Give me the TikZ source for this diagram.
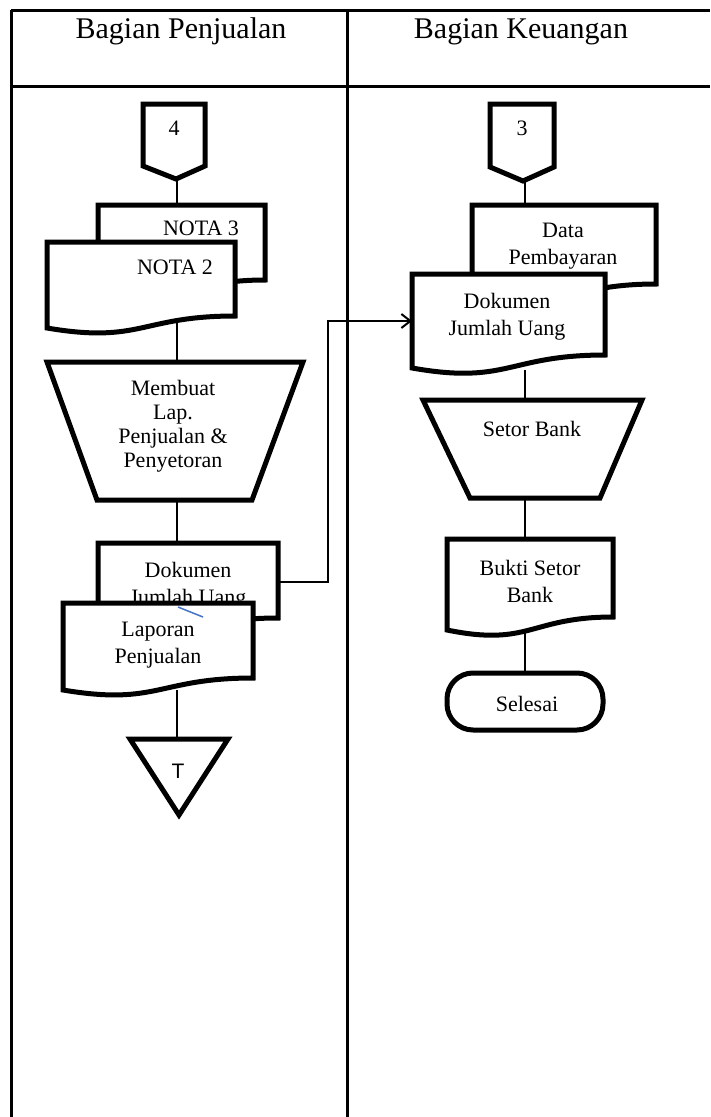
\documentclass[tikz,border=0pt]{standalone}
\usepackage{xcolor}
\usepackage{fontspec}
\setmainfont{Liberation Serif}
\newfontfamily\arialfont{Liberation Sans}
\usepackage{tikz}
\usetikzlibrary{arrows.meta}
\definecolor{garisbiru}{RGB}{68,114,196}

\begin{document}
\begin{tikzpicture}[x=1pt,y=1pt,yscale=-1,
  tbl/.style={line width=3},
  shp/.style={line width=5,line join=miter,fill=white},
  flow/.style={line width=2},
  lbl/.style={inner sep=0.75pt,align=center,font=\fontsize{22}{27}\selectfont},
  hdr/.style={inner sep=0.75pt,font=\fontsize{30}{36}\selectfont}]
\useasboundingbox (0,0) rectangle (710,1117);
% tabel
\draw [tbl](11,10) -- (710,10) ;
\draw [tbl](11,86) -- (710,86) ;
\draw [tbl](11,10) -- (11,1117) ;
\draw [tbl](347,10) -- (347,1117) ;
\node [hdr,anchor=base] (hjual) at (181,38) {Bagian Penjualan};
\node [hdr,anchor=base] (huang) at (521,38) {Bagian Keuangan};

% titik sambung
\coordinate (c4b) at (177,179);
\coordinate (nota3t) at (177,205);
\coordinate (nota2b) at (177,322);
\coordinate (mlapt) at (177,362);
\coordinate (mlapb) at (177,500);
\coordinate (dok1t) at (177,543);
\coordinate (dok1r) at (278,582);
\coordinate (belok1) at (328,582);
\coordinate (belok2) at (328,321);
\coordinate (dok2l) at (412,321);
\coordinate (lapb) at (177,690);
\coordinate (trit) at (177,739);
\coordinate (c3b) at (525,181);
\coordinate (datat) at (525,205);
\coordinate (dok2b) at (525,370);
\coordinate (setort) at (525,400);
\coordinate (setorb) at (525,498);
\coordinate (buktit) at (525,539);
\coordinate (buktib) at (525,632);
\coordinate (selt) at (525,673);

% garis alir
\draw [flow](c4b) -- (nota3t) ;
\draw [flow](nota2b) -- (mlapt) ;
\draw [flow](mlapb) -- (dok1t) ;
\draw [flow](lapb) -- (trit) ;
\draw [flow,-{Straight Barb[length=9,width=14]}](dok1r) -- (belok1) -- (belok2) -- (dok2l) ;
\draw [flow](c3b) -- (datat) ;
\draw [flow](dok2b) -- (setort) ;
\draw [flow](setorb) -- (buktit) ;
\draw [flow](buktib) -- (selt) ;

% Bagian Penjualan
\draw [shp](143,104) -- (205,104) -- (205,166) -- (176,179) -- (143,166) -- cycle ;
\node [lbl] (c4) at (174,128) {4};
\draw [shp](98,205) -- (265,205) -- (265,280) .. controls (181,280) and (181,309) .. (98,293) -- cycle ;
\node [lbl,anchor=base] (nota3) at (201,235.5) {NOTA 3};
\draw [shp](47,242) -- (235,242) -- (235,316) .. controls (141,316) and (141,344) .. (47,328) -- cycle ;
\node [lbl,anchor=base] (nota2) at (175,274.5) {NOTA 2};
\draw [shp](47,362) -- (303,362) -- (252,500) -- (97,500) -- cycle ;
\node [lbl,font=\fontsize{22}{24}\selectfont] (mlap) at (173,426) {Membuat\\Lap.\\Penjualan \&\\Penyetoran};
\draw [shp](98,543) -- (278,543) -- (278,618) .. controls (188,618) and (188,646) .. (98,630) -- cycle ;
\node [lbl] (dok1) at (188,586) {Dokumen\\Jumlah Uang};
\draw [shp](63,603) -- (253,603) -- (253,678) .. controls (158,678) and (158,706) .. (63,690) -- cycle ;
\node [lbl] (lap) at (158,645) {Laporan\\Penjualan};
\draw [color=garisbiru,line width=1.5](178,607) -- (203,617) ;
\draw [shp](130,739) -- (228,739) -- (179,815) -- cycle ;
\node [lbl,font=\arialfont\fontsize{21}{25}\selectfont] (tri) at (178,771) {T};

% Bagian Keuangan
\draw [shp](490,104) -- (554,104) -- (554,167) -- (523,181) -- (490,167) -- cycle ;
\node [lbl] (c3) at (522,128) {3};
\draw [shp](472,205) -- (656,205) -- (656,284) .. controls (564,284) and (564,314) .. (472,297) -- cycle ;
\node [lbl] (data) at (563,246) {Data\\Pembayaran};
\draw [shp](412,274) -- (605,274) -- (605,355) .. controls (508,355) and (508,385) .. (412,368) -- cycle ;
\node [lbl] (dok2) at (507,317) {Dokumen\\Jumlah Uang};
\draw [shp](423,400) -- (642,400) -- (600,498) -- (470,498) -- cycle ;
\node [lbl] (setor) at (532,429) {Setor Bank};
\draw [shp](447,539) -- (613,539) -- (613,617) .. controls (530,617) and (530,647) .. (447,630) -- cycle ;
\node [lbl] (bukti) at (530,581) {Bukti Setor\\Bank};
\draw [shp,rounded corners=26](447,673) rectangle (603,730) ;
\node [lbl] (selesai) at (527,704) {Selesai};
\end{tikzpicture}
\end{document}
